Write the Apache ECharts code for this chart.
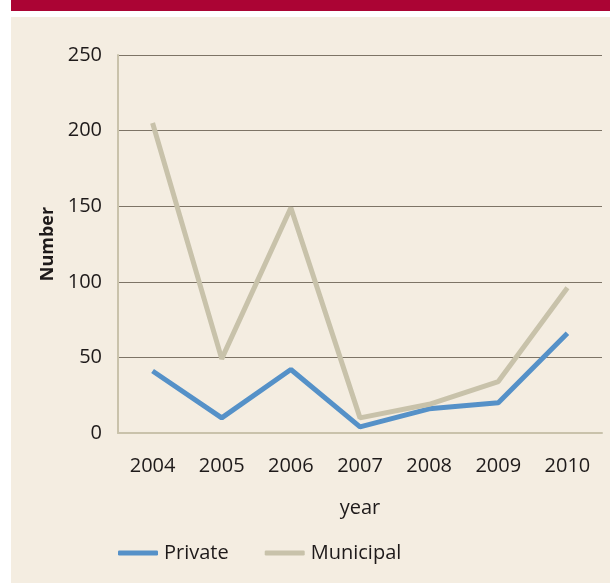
<!DOCTYPE html>
<html>
<head>
<meta charset="utf-8">
<script src="https://cdn.jsdelivr.net/npm/echarts@6/dist/echarts.min.js"></script>
<style>
  html, body { margin: 0; padding: 0; background: #fff; }
  #chart { width: 610px; height: 583px; }
</style>
</head>
<body>
<div id="chart"></div>
<script>
const years = ['2004', '2005', '2006', '2007', '2008', '2009', '2010'];
const privateVals = [41, 10, 42, 4, 16, 20, 66];
const municipalVals = [205, 49, 149, 10, 19, 34, 96];
const yTicks = { min: 0, max: 250, interval: 50 };

const font = '"Open Sans", "Noto Sans", sans-serif';
const textColor = '#1e1a1a';

const chart = echarts.init(document.getElementById('chart'));
chart.setOption({
  animation: false,
  textStyle: { fontFamily: font },
  graphic: [
    { type: 'rect', shape: { x: 11, y: 0, width: 599, height: 11 }, style: { fill: '#ab0434' }, z: -10 },
    { type: 'rect', shape: { x: 11, y: 17, width: 599, height: 566 }, style: { fill: '#f4ede1' }, z: -10 }
  ],
  grid: { left: 118, right: 8, top: 55, bottom: 150 },
  legend: {
    left: 113, top: 538,
    icon: 'roundRect', itemWidth: 40, itemHeight: 5, itemGap: 36,
    textStyle: { fontFamily: font, fontSize: 20, color: textColor, padding: [0, 0, 0, 1] },
    data: ['Private', 'Municipal']
  },
  xAxis: {
    type: 'category',
    data: years,
    name: 'year',
    nameLocation: 'middle',
    nameGap: 65,
    nameTextStyle: { fontFamily: font, fontSize: 20, color: textColor },
    axisLine: { lineStyle: { color: '#c9c2ab', width: 2 } },
    axisTick: { show: false },
    axisLabel: { fontFamily: font, fontSize: 20, color: textColor, margin: 23 }
  },
  yAxis: {
    type: 'value',
    min: yTicks.min, max: yTicks.max, interval: yTicks.interval,
    name: 'Number',
    nameLocation: 'middle',
    nameGap: 58,
    nameTextStyle: { fontFamily: font, fontSize: 18, fontWeight: 'bold', color: textColor },
    axisLine: { show: true, lineStyle: { color: '#c9c2ab', width: 2 } },
    axisTick: { show: false },
    axisLabel: { fontFamily: font, fontSize: 20, color: textColor, margin: 16 },
    splitLine: { lineStyle: { color: '#7d7466', width: 1 } }
  },
  series: [
    {
      name: 'Private', type: 'line', data: privateVals,
      symbol: 'none', color: '#5591c8',
      lineStyle: { width: 5 }
    },
    {
      name: 'Municipal', type: 'line', data: municipalVals,
      symbol: 'none', color: '#c8c2aa',
      lineStyle: { width: 5 }
    }
  ]
});
</script>
</body>
</html>
